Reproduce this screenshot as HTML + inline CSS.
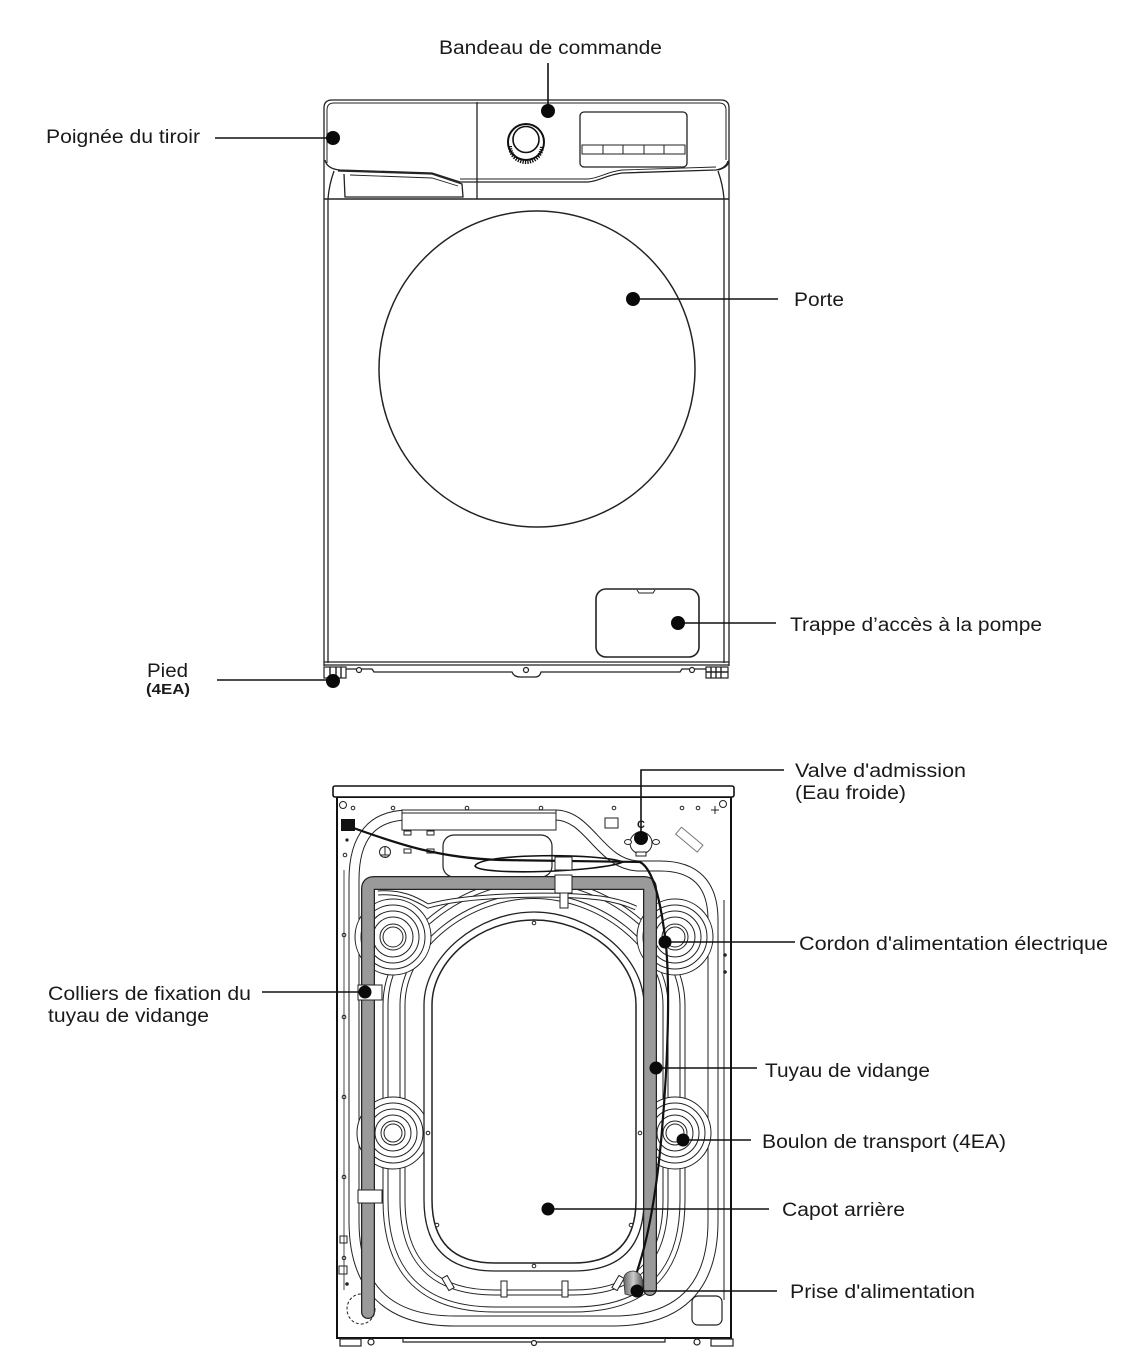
<!DOCTYPE html>
<html><head><meta charset="utf-8"><style>
html,body{margin:0;padding:0;background:#fff;}
svg{display:block;}
text{font-family:"Liberation Sans",Arial,sans-serif;fill:#1a1a1a;}
</style></head><body>
<svg width="1130" height="1372" viewBox="0 0 1130 1372" xmlns="http://www.w3.org/2000/svg">
<rect width="1130" height="1372" fill="#fff"/>

<!-- ================= TOP MACHINE ================= -->
<g fill="none" stroke="#222" stroke-width="1.3">
  <!-- panel outline -->
  <path d="M324,165 L324,108 Q324,100 332,100 L721,100 Q729,100 729,108 L729,160 Q729,167 718,170"/>
  <path d="M327,163 L327,110 Q327,103 334,103 L719,103 Q726,103 726,110 L726,160" stroke-width="1"/>
  <!-- panel bottom edge -->
  <path d="M325,160 Q327,169 340,170 L432,173 L460,182 L588,182 C600,181 606,175 622,173 L716,170 Q726,168 728,161"/>
  <path d="M460,179 L588,179 C600,178 606,172 622,170 L716,167" stroke-width="0.9"/>
  <!-- drawer divider -->
  <line x1="477" y1="102" x2="477" y2="199"/>
  <!-- drawer handle recess -->
  <path d="M338,171 L432,174 L462,184 L463,197 L345,197 L344,174"/>
  <path d="M350,175 L432,178 L458,186" stroke-width="0.9"/>
  <!-- sides below panel -->
  <path d="M334,171 Q329,185 328,199"/>
  <path d="M718,171 Q723,185 724,199"/>
  <!-- body -->
  <line x1="324" y1="165" x2="324" y2="666"/>
  <line x1="328" y1="199" x2="328" y2="663"/>
  <line x1="729" y1="160" x2="729" y2="666"/>
  <line x1="724" y1="199" x2="724" y2="663"/>
  <line x1="324" y1="199" x2="729" y2="199" stroke-width="1.5"/>
  <line x1="324" y1="662" x2="729" y2="662"/>
  <line x1="324" y1="665" x2="729" y2="665"/>
  <!-- door -->
  <circle cx="537" cy="369" r="158" stroke-width="1.5"/>
  <!-- display -->
  <rect x="580" y="112" width="107" height="55" rx="4"/>
  <rect x="582" y="145" width="103" height="9" stroke-width="1"/>
  <line x1="603" y1="145" x2="603" y2="154" stroke-width="1"/>
  <line x1="623" y1="145" x2="623" y2="154" stroke-width="1"/>
  <line x1="644" y1="145" x2="644" y2="154" stroke-width="1"/>
  <line x1="664" y1="145" x2="664" y2="154" stroke-width="1"/>
  <!-- pump door -->
  <rect x="596" y="589" width="103" height="68" rx="10" stroke-width="1.6"/>
  <path d="M637,590 L639,593 L653,593 L655,590" stroke-width="1"/>
  <!-- base -->
  <path d="M340,669 L372,669 L374,672 L512,672 Q514,677 520,677 L535,677 Q540,677 541,672 L680,672 L682,669 L706,669"/>
</g>
<!-- knob -->
<circle cx="526" cy="142" r="18" fill="#fff" stroke="#111" stroke-width="2"/>
<path d="M510,146 A16,16 0 0 0 542,146" fill="none" stroke="#111" stroke-width="4" stroke-dasharray="1.3 1.1"/>
<circle cx="526" cy="139.5" r="13" fill="#fff" stroke="#111" stroke-width="1.6"/>
<!-- screws -->
<g fill="#fff" stroke="#222" stroke-width="1.2">
  <circle cx="359" cy="670" r="2.5"/><circle cx="526" cy="670" r="2.5"/><circle cx="692" cy="670" r="2.5"/>
</g>
<!-- feet -->
<g fill="#fff" stroke="#222" stroke-width="1.2">
  <rect x="324" y="667" width="22" height="11"/>
  <rect x="706" y="667" width="22" height="11"/>
</g>
<g stroke="#222" stroke-width="1.4">
  <line x1="711" y1="667" x2="711" y2="678"/><line x1="716" y1="667" x2="716" y2="678"/><line x1="721" y1="667" x2="721" y2="678"/>
  <line x1="706" y1="672" x2="728" y2="672"/>
  <line x1="330" y1="667" x2="330" y2="678"/><line x1="336" y1="667" x2="336" y2="678"/><line x1="341" y1="667" x2="341" y2="678"/>
</g>

<!-- ================= BOTTOM MACHINE ================= -->
<rect x="337" y="797" width="394" height="541" fill="#fff" stroke="#111" stroke-width="2"/>
<rect x="333" y="786" width="401" height="11" rx="2" fill="#fff" stroke="#111" stroke-width="1.6"/>

<!-- outer channel (double line) -->
<path d="M354,880 Q354,815 409,815 L555,815 C590,815 600,866 640,866 L660,866 Q713,866 713,920 L713,1221 Q713,1321 613,1321 L455,1321 Q354,1321 354,1221 Z" fill="none" stroke="#222" stroke-width="11"/>
<path d="M354,880 Q354,815 409,815 L555,815 C590,815 600,866 640,866 L660,866 Q713,866 713,920 L713,1221 Q713,1321 613,1321 L455,1321 Q354,1321 354,1221 Z" fill="none" stroke="#fff" stroke-width="9"/>
<line x1="724" y1="900" x2="724" y2="1300" stroke="#222" stroke-width="1"/>
<line x1="344" y1="870" x2="344" y2="1290" stroke="#222" stroke-width="0.8"/>

<!-- mid rings -->
<path d="M385.5,1005 C385.5,937 465,880 534,880 C603,880 682.5,937 682.5,1005 L682.5,1200 Q682.5,1309.5 573,1309.5 L495,1309.5 Q385.5,1309.5 385.5,1200 Z" fill="none" stroke="#222" stroke-width="6"/>
<path d="M385.5,1005 C385.5,937 465,880 534,880 C603,880 682.5,937 682.5,1005 L682.5,1200 Q682.5,1309.5 573,1309.5 L495,1309.5 Q385.5,1309.5 385.5,1200 Z" fill="none" stroke="#fff" stroke-width="4"/>
<path d="M402.5,1005 C402.5,945 470,896 534,896 C598,896 665.5,945 665.5,1005 L665.5,1200 Q665.5,1292.5 573,1292.5 L495,1292.5 Q402.5,1292.5 402.5,1200 Z" fill="none" stroke="#222" stroke-width="6"/>
<path d="M402.5,1005 C402.5,945 470,896 534,896 C598,896 665.5,945 665.5,1005 L665.5,1200 Q665.5,1292.5 573,1292.5 L495,1292.5 Q402.5,1292.5 402.5,1200 Z" fill="none" stroke="#fff" stroke-width="4"/>

<!-- bolts -->
<g fill="none" stroke="#222" stroke-width="1">
  <g transform="translate(393,937)"><circle r="38" fill="#fff"/><circle r="32"/><circle r="26"/><circle r="20"/><circle r="13"/><circle r="10"/></g>
  <g transform="translate(675,937)"><circle r="38" fill="#fff"/><circle r="32"/><circle r="26"/><circle r="20"/><circle r="13"/><circle r="10"/></g>
  <g transform="translate(393,1133)"><circle r="36" fill="#fff"/><circle r="30"/><circle r="24"/><circle r="18"/><circle r="12"/><circle r="9"/></g>
  <g transform="translate(675,1133)"><circle r="36" fill="#fff"/><circle r="30"/><circle r="24"/><circle r="18"/><circle r="12"/><circle r="9"/></g>
</g>

<!-- rear cover opening -->
<path d="M424,1005 C424,956 478,912 534,912 C590,912 644,956 644,1005 L644,1200 Q644,1271 573,1271 L495,1271 Q424,1271 424,1200 Z" fill="#fff" stroke="#222" stroke-width="1.3"/>
<path d="M432,1005 C432,960 480,920 534,920 C588,920 636,960 636,1005 L636,1200 Q636,1263 573,1263 L495,1263 Q432,1263 432,1200 Z" fill="#fff" stroke="#222" stroke-width="1.5"/>
<g fill="#fff" stroke="#222" stroke-width="1">
  <circle cx="534" cy="923" r="1.8"/><circle cx="534" cy="1266" r="1.8"/>
  <circle cx="428" cy="1133" r="1.8"/><circle cx="640" cy="1133" r="1.8"/>
  <circle cx="437" cy="1225" r="1.8"/><circle cx="631" cy="1225" r="1.8"/>
</g>

<!-- top bands -->
<path d="M378,893 C402,891 416,899 428,906 C470,894 560,893 600,898 C615,900 625,903 636,908" fill="none" stroke="#222" stroke-width="5"/>
<path d="M378,893 C402,891 416,899 428,906 C470,894 560,893 600,898 C615,900 625,903 636,908" fill="none" stroke="#fff" stroke-width="3"/>

<!-- bottom brackets -->
<g fill="#fff" stroke="#222" stroke-width="1">
  <rect x="501" y="1281" width="6" height="16"/>
  <rect x="562" y="1281" width="6" height="16"/>
  <rect x="445" y="1276" width="6" height="14" transform="rotate(-30 448 1283)"/>
  <rect x="615" y="1276" width="6" height="14" transform="rotate(30 618 1283)"/>
</g>

<!-- top details -->
<g fill="none" stroke="#222" stroke-width="1">
  <rect x="402" y="810" width="154" height="20" fill="#fff"/>
  <line x1="402" y1="813" x2="556" y2="813"/>
  <rect x="443" y="835" width="109" height="42" rx="11" fill="#fff" stroke-width="1.2"/>
  <rect x="404" y="831" width="7" height="4"/><rect x="427" y="831" width="7" height="4"/>
  <rect x="404" y="849" width="7" height="4"/><rect x="427" y="849" width="7" height="4"/>
  <circle cx="385" cy="852" r="5.5"/>
  <path d="M385,847 L385,855 M381,855 L389,855 M382.5,857 L387.5,857"/>
  <rect x="605" y="818" width="13" height="10"/>
  <rect x="675" y="835" width="28" height="9" transform="rotate(40 689 840)" stroke="#777"/>
  <circle cx="343" cy="805" r="3.5"/><circle cx="723" cy="804" r="3.5"/>
  <circle cx="353" cy="808" r="1.8"/><circle cx="393" cy="808" r="1.8"/><circle cx="467" cy="808" r="1.8"/>
  <circle cx="541" cy="808" r="1.8"/><circle cx="614" cy="808" r="1.8"/><circle cx="682" cy="808" r="1.8"/><circle cx="698" cy="808" r="1.8"/>
  <path d="M711,810 L719,810 M715,806 L715,814"/>
  <circle cx="345" cy="855" r="1.8"/><circle cx="344" cy="935" r="1.8"/><circle cx="344" cy="1017" r="1.8"/>
  <circle cx="344" cy="1097" r="1.8"/><circle cx="344" cy="1177" r="1.8"/><circle cx="344" cy="1258" r="1.8"/>
  <rect x="340" y="1236" width="7" height="7"/><rect x="339" y="1266" width="8" height="8"/>
  <rect x="692" y="1296" width="30" height="29" rx="6" stroke-width="1.2"/>
  <ellipse cx="361" cy="1309" rx="14" ry="15" stroke-dasharray="3 2"/>
</g>
<circle cx="347" cy="840" r="1.6" fill="#222"/>
<circle cx="725" cy="955" r="1.8" fill="#222"/><circle cx="725" cy="972" r="1.8" fill="#222"/>
<circle cx="347" cy="1284" r="1.8" fill="#222"/>

<!-- valve -->
<g stroke="#222" stroke-width="1" fill="#fff">
  <circle cx="641" cy="843" r="11"/>
  <ellipse cx="628" cy="842" rx="3.5" ry="2.5"/>
  <ellipse cx="656" cy="842" rx="3.5" ry="2.5"/>
  <rect x="636" y="852" width="10" height="4"/>
</g>
<text x="641" y="828" font-size="11" font-weight="bold" text-anchor="middle">C</text>

<!-- bottom base / feet -->
<g fill="#fff" stroke="#222" stroke-width="1.2">
  <rect x="340" y="1339" width="21" height="7"/>
  <rect x="711" y="1339" width="22" height="7"/>
  <path d="M403,1338 L403,1342 L665,1342 L665,1338" fill="none"/>
  <circle cx="371" cy="1342" r="3"/><circle cx="697" cy="1342" r="3"/><circle cx="534" cy="1343" r="2.5"/>
</g>

<!-- hose -->
<path d="M368,1312 L368,889 Q368,883 374,883 L644,883 Q650,883 650,889 L650,1289" fill="none" stroke="#222" stroke-width="14" stroke-linecap="round" stroke-linejoin="round"/>
<path d="M368,1312 L368,889 Q368,883 374,883 L644,883 Q650,883 650,889 L650,1289" fill="none" stroke="#9a9a9a" stroke-width="11.5" stroke-linecap="round" stroke-linejoin="round"/>

<!-- clamps -->
<g fill="#fff" stroke="#222" stroke-width="1">
  <rect x="358" y="985" width="24" height="15"/>
  <rect x="358" y="1190" width="24" height="13"/>
  <rect x="555" y="875" width="17" height="18"/>
  <rect x="560" y="893" width="8" height="15"/>
</g>

<!-- power cord -->
<path d="M348,826 C400,845 440,858 500,860 L640,862 C655,870 662,910 666,945 C670,990 668,1060 662,1130 C658,1180 650,1230 640,1262 L636,1275" fill="none" stroke="#111" stroke-width="2.2"/>
<path d="M475,866 C480,853 600,853 623,862 C600,872 480,876 475,866 Z" fill="none" stroke="#111" stroke-width="1.6"/>
<rect x="555" y="857" width="17" height="13" fill="#fff" stroke="#222" stroke-width="1"/>
<rect x="341" y="819" width="14" height="12" fill="#111"/>

<!-- plug -->
<defs><linearGradient id="pg" x1="0" x2="1"><stop offset="0" stop-color="#666"/><stop offset="0.5" stop-color="#ccc"/><stop offset="1" stop-color="#555"/></linearGradient></defs>
<path d="M624,1283 Q622,1272 633,1271 Q642,1272 643,1283 L642,1294 Q633,1297 625,1294 Z" fill="url(#pg)" stroke="#333" stroke-width="0.8"/>

<!-- ================= LEADERS ================= -->
<g stroke="#111" stroke-width="1.6" fill="none">
  <line x1="548" y1="63" x2="548" y2="111"/>
  <line x1="215" y1="138" x2="333" y2="138"/>
  <line x1="633" y1="299" x2="778" y2="299"/>
  <line x1="678" y1="623" x2="776" y2="623"/>
  <line x1="217" y1="680" x2="333" y2="680"/>
  <path d="M641,838 L641,770 L784,770"/>
  <line x1="665" y1="942" x2="795" y2="942"/>
  <line x1="262" y1="992" x2="365" y2="992"/>
  <line x1="656" y1="1068" x2="757" y2="1068"/>
  <line x1="683" y1="1140" x2="751" y2="1140"/>
  <line x1="548" y1="1209" x2="769" y2="1209"/>
  <line x1="637" y1="1291" x2="777" y2="1291"/>
</g>
<g fill="#0a0a0a">
  <circle cx="548" cy="111" r="7"/>
  <circle cx="333" cy="138" r="7"/>
  <circle cx="633" cy="299" r="7"/>
  <circle cx="678" cy="623" r="7"/>
  <circle cx="333" cy="681" r="7"/>
  <circle cx="641" cy="838" r="7"/>
  <circle cx="665" cy="942" r="6.5"/>
  <circle cx="365" cy="992" r="6.5"/>
  <circle cx="656" cy="1068" r="6.5"/>
  <circle cx="683" cy="1140" r="6.5"/>
  <circle cx="548" cy="1209" r="6.5"/>
  <circle cx="637" cy="1291" r="6.5"/>
</g>

<!-- ================= LABELS ================= -->
<g font-size="19">
  <text x="439" y="54" textLength="223" lengthAdjust="spacingAndGlyphs">Bandeau de commande</text>
  <text x="46" y="143" textLength="154" lengthAdjust="spacingAndGlyphs">Poignée du tiroir</text>
  <text x="794" y="306" textLength="50" lengthAdjust="spacingAndGlyphs">Porte</text>
  <text x="790" y="631" textLength="252" lengthAdjust="spacingAndGlyphs">Trappe d’accès à la pompe</text>
  <text x="147" y="677" textLength="41" lengthAdjust="spacingAndGlyphs">Pied</text>
  <text x="795" y="777" textLength="171" lengthAdjust="spacingAndGlyphs">Valve d'admission</text>
  <text x="795" y="799" textLength="111" lengthAdjust="spacingAndGlyphs">(Eau froide)</text>
  <text x="799" y="950" textLength="309" lengthAdjust="spacingAndGlyphs">Cordon d'alimentation électrique</text>
  <text x="48" y="1000" textLength="203" lengthAdjust="spacingAndGlyphs">Colliers de fixation du</text>
  <text x="48" y="1022" textLength="161" lengthAdjust="spacingAndGlyphs">tuyau de vidange</text>
  <text x="765" y="1077" textLength="165" lengthAdjust="spacingAndGlyphs">Tuyau de vidange</text>
  <text x="762" y="1148" textLength="244" lengthAdjust="spacingAndGlyphs">Boulon de transport (4EA)</text>
  <text x="782" y="1216" textLength="123" lengthAdjust="spacingAndGlyphs">Capot arrière</text>
  <text x="790" y="1298" textLength="185" lengthAdjust="spacingAndGlyphs">Prise d'alimentation</text>
</g>
<text x="146" y="694" font-size="15" font-weight="bold" textLength="44" lengthAdjust="spacingAndGlyphs">(4EA)</text>
</svg>
</body></html>
